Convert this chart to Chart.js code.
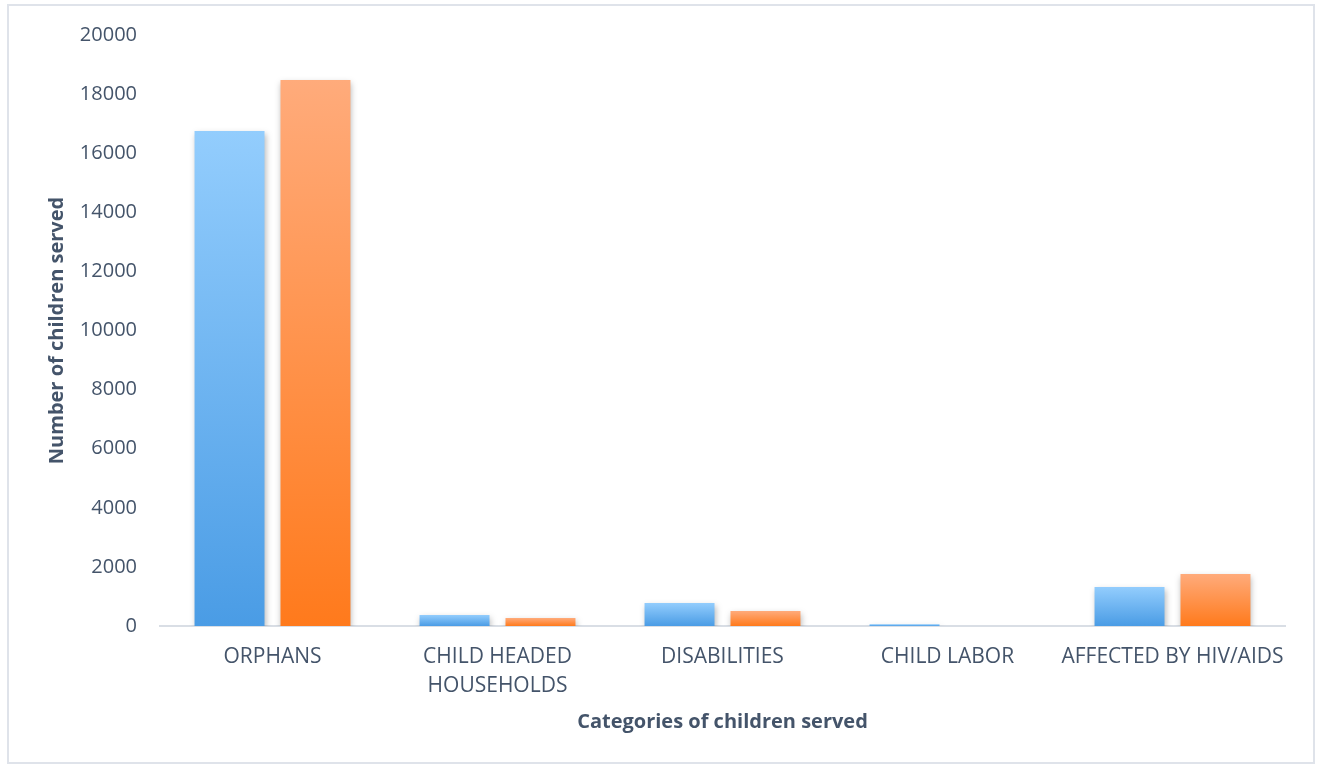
<!DOCTYPE html>
<html>
<head>
<meta charset="utf-8">
<script src="https://cdn.jsdelivr.net/npm/chart.js@4.4.1/dist/chart.umd.min.js"></script>
<style>
  body { margin: 0; background: #fff; }
  #wrap { position: relative; width: 1317px; height: 767px; }
  #frame { position: absolute; left: 7px; top: 4px; width: 1304px; height: 756px;
           border: 2px solid #dfe3ea; pointer-events: none; }
</style>
</head>
<body>
<div id="wrap">
  <canvas id="chart" width="1317" height="767"></canvas>
  <div id="frame"></div>
</div>
<script>
const categories = ['ORPHANS', ['CHILD HEADED', 'HOUSEHOLDS'], 'DISABILITIES', 'CHILD LABOR', 'AFFECTED BY HIV/AIDS'];
const seriesA = [16750, 370, 780, 60, 1320];
const seriesB = [18480, 270, 510, 0, 1760];
const yTicks = [0, 2000, 4000, 6000, 8000, 10000, 12000, 14000, 16000, 18000, 20000];

const textColor = '#44546a';
const fontFamily = 'Open Sans, sans-serif';

function barGradient(top, bottom) {
    return context => {
        const chart = context.chart;
        const { ctx, chartArea, scales } = chart;
        if (!chartArea) return bottom;
        const v = context.raw || 0;
        const y0 = scales.y.getPixelForValue(0);
        const y1 = scales.y.getPixelForValue(v);
        if (y0 - y1 < 1) return top;
        const g = ctx.createLinearGradient(0, y1, 0, y0);
        g.addColorStop(0, top);
        g.addColorStop(1, bottom);
        return g;
    };
}

// soft grey shadow under the bars
const barShadow = {
    id: 'barShadow',
    beforeDatasetsDraw(chart) {
        const ctx = chart.ctx;
        ctx.save();
        ctx.shadowColor = 'rgba(0,0,0,0.28)';
        ctx.shadowBlur = 6;
        ctx.shadowOffsetX = 1;
        ctx.shadowOffsetY = 3;
    },
    afterDatasetsDraw(chart) {
        chart.ctx.restore();
    }
};

new Chart(document.getElementById('chart'), {
    type: 'bar',
    data: {
        labels: categories,
        datasets: [
            {
                label: 'Series 1',
                data: seriesA,
                backgroundColor: barGradient('#93cdfd', '#4a9ce5'),
                barPercentage: 0.814,
                categoryPercentage: 0.764
            },
            {
                label: 'Series 2',
                data: seriesB,
                backgroundColor: barGradient('#ffab7b', '#ff7a1c'),
                barPercentage: 0.814,
                categoryPercentage: 0.764
            }
        ]
    },
    plugins: [barShadow],
    options: {
        responsive: false,
        animation: false,
        layout: { padding: { left: 35, right: 32, top: 34, bottom: 20 } },
        plugins: {
            legend: { display: false },
            tooltip: { enabled: false }
        },
        scales: {
            x: {
                afterFit: scale => { scale.height = 121; },
                grid: { display: false, drawTicks: false },
                border: { color: '#d9dee5', width: 2 },
                ticks: {
                    color: textColor,
                    font: { family: fontFamily, size: 21, lineHeight: 1.4 },
                    padding: 16,
                    maxRotation: 0,
                    autoSkip: false
                },
                title: {
                    display: true,
                    text: 'Categories of children served',
                    color: textColor,
                    font: { family: fontFamily, size: 20, weight: 'bold' },
                    padding: { top: 0, bottom: 13 }
                }
            },
            y: {
                min: 0,
                max: 20000,
                afterBuildTicks: scale => { scale.ticks = yTicks.map(v => ({ value: v })); },
                afterFit: scale => { scale.width = 125; },
                grid: { display: false, drawTicks: false },
                border: { display: false },
                ticks: {
                    color: textColor,
                    font: { family: fontFamily, size: 20 },
                    padding: 23,
                    callback: v => String(v)
                },
                title: {
                    display: true,
                    text: 'Number of children served',
                    color: textColor,
                    font: { family: fontFamily, size: 20, weight: 'bold' },
                    padding: { top: 10, bottom: 0 }
                }
            }
        }
    }
});
</script>
</body>
</html>
